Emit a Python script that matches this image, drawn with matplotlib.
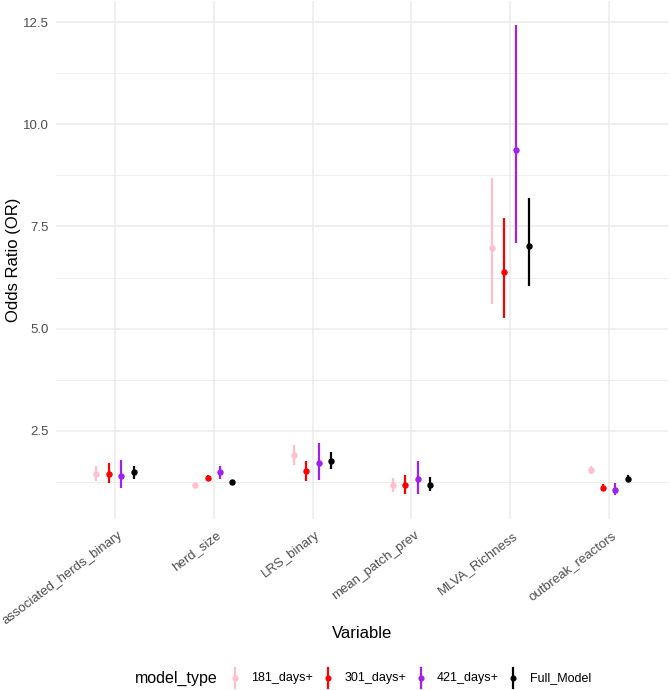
import matplotlib.pyplot as plt
from matplotlib.lines import Line2D
from matplotlib.transforms import ScaledTranslation
import numpy as np

plt.rcParams['font.family'] = ['Liberation Sans', 'DejaVu Sans']

variables = ['associated_herds_binary', 'herd_size', 'LRS_binary',
             'mean_patch_prev', 'MLVA_Richness', 'outbreak_reactors']
models = ['181_days+', '301_days+', '421_days+', 'Full_Model']
colors = ['pink', 'red', '#A020F0', 'black']

# odds ratio, lower CI, upper CI for each model (same order as variables)
or_181 = [1.45, 1.18, 1.90, 1.17, 6.98, 1.55]
lo_181 = [1.26, 1.16, 1.67, 1.00, 5.60, 1.44]
hi_181 = [1.65, 1.20, 2.16, 1.35, 8.69, 1.65]

or_301 = [1.45, 1.35, 1.51, 1.17, 6.39, 1.10]
lo_301 = [1.23, 1.26, 1.26, 0.96, 5.27, 1.02]
hi_301 = [1.70, 1.43, 1.75, 1.41, 7.71, 1.20]

or_421 = [1.39, 1.48, 1.70, 1.31, 9.38, 1.06]
lo_421 = [1.09, 1.31, 1.30, 0.96, 7.10, 0.92]
hi_421 = [1.79, 1.64, 2.21, 1.77, 12.43, 1.22]

or_full = [1.48, 1.25, 1.77, 1.18, 7.02, 1.33]
lo_full = [1.31, 1.23, 1.57, 1.02, 6.03, 1.25]
hi_full = [1.65, 1.27, 1.98, 1.36, 8.20, 1.41]

est = [or_181, or_301, or_421, or_full]
low = [lo_181, lo_301, lo_421, lo_full]
high = [hi_181, hi_301, hi_421, hi_full]

fig = plt.figure(figsize=(6.71, 6.9), dpi=100)
ax = fig.add_axes([0.083, 0.248, 0.913, 0.75])

x = np.arange(1, len(variables) + 1)
dodge = 0.5 / len(models)
for i, m in enumerate(models):
    xs = x + (i - 1.5) * dodge
    y = np.array(est[i])
    yerr = [y - np.array(low[i]), np.array(high[i]) - y]
    ax.errorbar(xs, y, yerr=yerr, fmt='o', color=colors[i], ms=3.6,
                elinewidth=1.6, capsize=0, label=m, zorder=3)

ymin = min(min(l) for l in low)
ymax = max(max(h) for h in high)
pad = (ymax - ymin) * 0.05
ax.set_ylim(ymin - pad, ymax + pad)
ax.set_xlim(0.4, len(variables) + 0.6)

ax.set_yticks([2.5, 5.0, 7.5, 10.0, 12.5])
ax.set_yticklabels(['2.5', '5.0', '7.5', '10.0', '12.5'])
ax.set_yticks([1.25, 3.75, 6.25, 8.75, 11.25], minor=True)
ax.set_xticks(x)
ax.set_xticklabels([])

ax.grid(True, which='major', color='#EBEBEB', linewidth=1.1, zorder=0)
ax.grid(True, which='minor', axis='y', color='#EBEBEB', linewidth=0.55, zorder=0)
ax.set_axisbelow(True)
for s in ax.spines.values():
    s.set_visible(False)
ax.tick_params(which='both', length=0, labelsize=9.5, labelcolor='#4D4D4D')
ax.tick_params(axis='y', pad=5)

# rotated category labels, right end just right of each tick
lbl_tr = ax.get_xaxis_transform() + ScaledTranslation(0.06, -0.15, fig.dpi_scale_trans)
for xi, v in zip(x, variables):
    ax.text(xi, 0, v, transform=lbl_tr, rotation=37, ha='right', va='center',
            rotation_mode='anchor', fontsize=9.5, color='#4D4D4D')

ax.set_xlabel('Variable', fontsize=12)
ax.xaxis.set_label_coords(0.5, -0.222)
ax.xaxis.label.set_va('center')
ax.set_ylabel('Odds Ratio (OR)', fontsize=12, labelpad=1)

# legend along the bottom, title on the left
ly = 1 - 678 / 690
fig.text(135 / 671, ly, 'model_type', fontsize=11.5, va='center', ha='left')
key_x = [235, 327.7, 420.5, 513.3]
for i, m in enumerate(models):
    kx = key_x[i] / 671
    fig.add_artist(Line2D([kx, kx], [ly - 10 / 690, ly + 10 / 690],
                          color=colors[i], lw=1.6))
    fig.add_artist(Line2D([kx], [ly], marker='o', ms=3.4, color=colors[i]))
    fig.text(kx + 16.5 / 671, ly, m, fontsize=9, va='center', ha='left')

fig.savefig('out.png', dpi=100)
